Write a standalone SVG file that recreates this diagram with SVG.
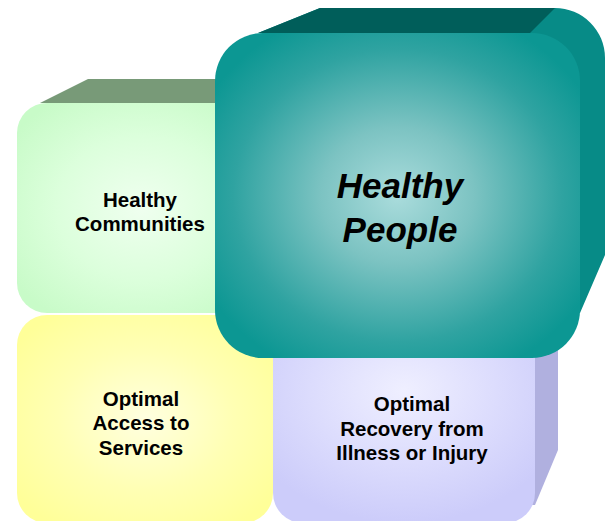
<svg xmlns="http://www.w3.org/2000/svg" width="610" height="521" viewBox="0 0 610 521">
  <defs>
    <radialGradient id="gGreen" cx="0.5" cy="0.5" r="0.62">
      <stop offset="0" stop-color="#efffef"/>
      <stop offset="0.55" stop-color="#dcffdc"/>
      <stop offset="1" stop-color="#c8fbc8"/>
    </radialGradient>
    <radialGradient id="gYellow" cx="0.5" cy="0.5" r="0.62">
      <stop offset="0" stop-color="#ffffe0"/>
      <stop offset="0.55" stop-color="#ffffb4"/>
      <stop offset="1" stop-color="#ffff99"/>
    </radialGradient>
    <radialGradient id="gPurple" cx="0.5" cy="0.35" r="0.65">
      <stop offset="0" stop-color="#efefff"/>
      <stop offset="0.55" stop-color="#dcdcfd"/>
      <stop offset="1" stop-color="#ccccfa"/>
    </radialGradient>
    <radialGradient id="gTeal" cx="0.5" cy="0.5" r="0.6">
      <stop offset="0" stop-color="#aadcdc"/>
      <stop offset="0.35" stop-color="#7cc3c2"/>
      <stop offset="0.75" stop-color="#2fa3a1"/>
      <stop offset="1" stop-color="#0c9793"/>
    </radialGradient>
  </defs>
  <style>
    .lbl { font-family: "Liberation Sans", Arial, sans-serif; font-weight: bold; font-size: 20.5px; fill: #000; text-anchor: middle; }
    .big { font-family: "Liberation Sans", Arial, sans-serif; font-weight: bold; font-style: italic; font-size: 35px; fill: #000; text-anchor: middle; }
  </style>

  <g id="communities">
    <polygon points="40,103 88,79 262,79 262,103" fill="#789a78"/>
    <rect x="17" y="103" width="250" height="210" rx="30" fill="url(#gGreen)"/>
    <text class="lbl" x="140" y="207">Healthy</text>
    <text class="lbl" x="140" y="231">Communities</text>
  </g>

  <g id="access">
    <rect x="17" y="315" width="256" height="208" rx="30" fill="url(#gYellow)"/>
    <text class="lbl" x="141" y="406">Optimal</text>
    <text class="lbl" x="141" y="430">Access to</text>
    <text class="lbl" x="141" y="455">Services</text>
  </g>

  <g id="recovery">
    <polygon points="520,338 558,338 558,450 535,505 520,505" fill="#b0b0df"/>
    <rect x="273" y="320" width="262" height="203" rx="30" fill="url(#gPurple)"/>
    <text class="lbl" x="412" y="411">Optimal</text>
    <text class="lbl" x="412" y="436">Recovery from</text>
    <text class="lbl" x="412" y="460">Illness or Injury</text>
  </g>

  <g id="people">
    <!-- side extrusion, extended inward so it fills behind the rounded front corners -->
    <path d="M258,33 L320,8 L555,8 A50,50 0 0 1 605,58 L605,255 L580,313 L520,313 L520,33 Z" fill="#078b87"/>
    <!-- top face -->
    <polygon points="258,33 320,8 555,8 530,33" fill="#005e5a"/>
    <rect x="215" y="33" width="365" height="325" rx="48" fill="url(#gTeal)"/>
    <text class="big" x="400" y="198">Healthy</text>
    <text class="big" x="400" y="242">People</text>
  </g>
</svg>
